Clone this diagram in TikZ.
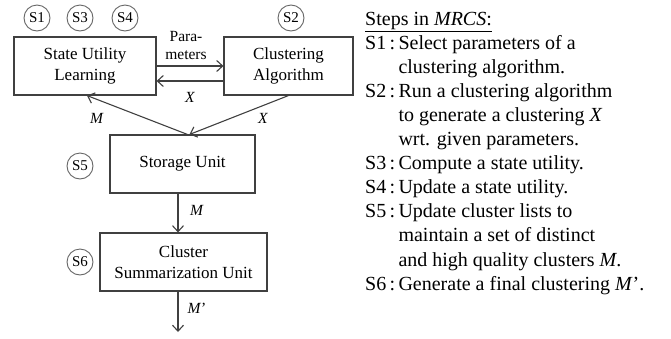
\documentclass[tikz,border=0pt]{standalone}
\usepackage{fontspec}
\setmainfont{Liberation Serif}
\usetikzlibrary{shapes,arrows,arrows.meta,positioning}

\begin{document}
\begin{tikzpicture}[x=1pt,y=1pt,
  block/.style={draw=black!75,line width=1.1pt,rectangle,align=center,minimum height=58pt,font=\fontsize{17}{21}\selectfont},
  stepmark/.style={draw=black!60,line width=0.9pt,circle,inner sep=0pt,minimum size=26pt,font=\fontsize{15}{15}\selectfont},
  lab/.style={font=\fontsize{15.5}{18}\selectfont},
  flow/.style={-{Straight Barb[length=6pt,width=11pt]},draw=black!75,line width=1.1pt}]
\useasboundingbox (0,0) rectangle (671,-338);

\node[block,minimum width=142pt] (sul) at (85,-66) {State Utility\\Learning};
\node[block,minimum width=129pt] (ca) at (288.5,-66) {Clustering\\Algorithm};
\node[block,minimum width=145pt] (su) at (182.5,-164) {Storage Unit};
\node[block,minimum width=167pt] (csu) at (183.5,-262) {Cluster\\Summarization Unit};
\coordinate (out) at (178,-332);

\node[stepmark] (s1) at (37,-18) {S1};
\node[stepmark] (s3) at (80,-18) {S3};
\node[stepmark] (s4) at (125,-18) {S4};
\node[stepmark] (s2) at (291,-18) {S2};
\node[stepmark] (s5) at (80,-166) {S5};
\node[stepmark] (s6) at (80,-262) {S6};

\draw[flow] (sul.east) -- (ca.west);
\draw[flow] ([yshift=-15pt]ca.west) -- ([yshift=-15pt]sul.east);
\draw[flow] ([xshift=5pt]su.north) -- ([xshift=2pt]sul.south);
\draw[flow] (ca.south) -- ([xshift=7pt]su.north);
\draw[flow] ([xshift=-4.5pt]su.south) -- ([xshift=-4.5pt]su.south |- csu.north);
\draw[flow] (out |- csu.south) -- (out);

\node[lab,align=center] (par) at (186,-45) {Para-\\meters};
\node[lab] (x1) at (190,-97) {\textit{X}};
\node[lab] (m1) at (97,-118) {\textit{M}};
\node[lab] (x2) at (263,-118) {\textit{X}};
\node[lab] (m2) at (197,-210) {\textit{M}};
\node[lab] (m3) at (197,-308) {\textit{M}'};

\node[anchor=north west,inner sep=0pt,font=\fontsize{20}{24.1}\selectfont] (steps) at (365,-8) {%
\begin{tabular}{@{}l@{\,}l@{}}
\multicolumn{2}{@{}l}{\underline{Steps in \textit{MRCS}:}}\\
S1\,: & Select parameters of a\\
 & clustering algorithm.\\
S2\,: & Run a clustering algorithm\\
 & to generate a clustering \textit{X}\\
 & wrt. given parameters.\\
S3\,: & Compute a state utility.\\
S4\,: & Update a state utility.\\
S5\,: & Update cluster lists to\\
 & maintain a set of distinct\\
 & and high quality clusters \textit{M}.\\
S6\,: & Generate a final clustering \textit{M}'.
\end{tabular}};
\end{tikzpicture}
\end{document}
